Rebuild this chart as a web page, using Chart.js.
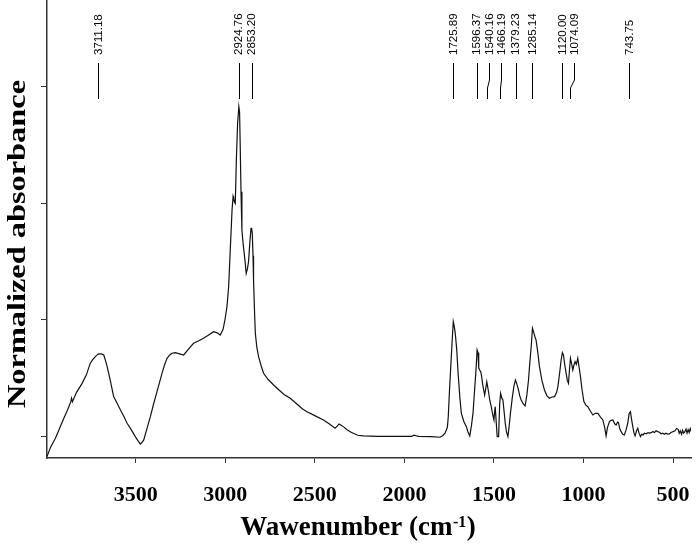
<!DOCTYPE html>
<html>
<head>
<meta charset="utf-8">
<script src="https://cdn.jsdelivr.net/npm/chart.js@4.4.0/dist/chart.umd.min.js"></script>
<style>
  html, body { margin: 0; padding: 0; background: #fff; }
  #contenedor { width: 698px; height: 548px; position: relative; }
</style>
</head>
<body>
<div id="contenedor"><canvas id="myChart"></canvas></div>
<script>
const wavenumbers = [
  3995, 3975, 3948, 3925, 3901, 3880, 3862, 3858, 3853, 3830, 3799, 3775, 3760, 3753, 3740, 3725, 3712, 3706, 3695, 3685,
  3678, 3668, 3659, 3640, 3623, 3605, 3585, 3565, 3548, 3525, 3502, 3485, 3474, 3462, 3455, 3435, 3418, 3400, 3381, 3366,
  3353, 3340, 3325, 3310, 3297, 3279, 3255, 3232, 3205, 3177, 3150, 3121, 3095, 3065, 3045, 3028, 3012, 3000, 2990, 2981,
  2972, 2962, 2956, 2953, 2948, 2944, 2938, 2931, 2924, 2920, 2917, 2912, 2907, 2900, 2894, 2888, 2883, 2876, 2870, 2862,
  2856, 2853, 2849, 2845, 2842, 2836, 2832, 2824, 2814, 2800, 2786, 2760, 2730, 2700, 2670, 2637, 2600, 2570, 2544, 2500,
  2452, 2420, 2387, 2375, 2365, 2355, 2341, 2320, 2300, 2285, 2260, 2229, 2150, 2050, 1960, 1945, 1935, 1920, 1850, 1801,
  1785, 1773, 1760, 1755, 1748, 1741, 1734, 1727, 1722, 1716, 1708, 1700, 1690, 1682, 1668, 1654, 1645, 1635, 1626, 1617,
  1608, 1599, 1594, 1589, 1585, 1580, 1575, 1570, 1562, 1552, 1545, 1540, 1532, 1523, 1515, 1507, 1500, 1496, 1493, 1487,
  1482, 1474, 1468, 1463, 1456, 1450, 1443, 1437, 1430, 1422, 1415, 1408, 1398, 1389, 1380, 1376, 1370, 1363, 1356, 1348,
  1336, 1326, 1316, 1307, 1300, 1292, 1285, 1279, 1272, 1265, 1255, 1246, 1232, 1218, 1204, 1190, 1176, 1162, 1150, 1143,
  1133, 1125, 1118, 1112, 1105, 1097, 1090, 1084, 1078, 1073, 1067, 1060, 1054, 1047, 1040, 1032, 1025, 1017, 1008, 998,
  987, 976, 962, 948, 934, 920, 906, 892, 882, 874, 866, 855, 846, 836, 826, 818, 810, 805, 798, 790,
  781, 772, 762, 753, 745, 738, 732, 725, 718, 712, 704, 697, 690, 682, 675, 668, 660, 650, 640, 630,
  623, 612, 605, 595, 586, 576, 567, 558, 548, 540, 530, 521, 512, 505, 500, 490, 480, 472, 466, 460,
  453, 447, 441, 435, 428, 422, 416, 410, 404, 398
];
const absorbance = [
  -0.171, -0.09, -0.014, 0.07, 0.158, 0.23, 0.30, 0.33, 0.30, 0.38, 0.457, 0.53, 0.60, 0.629, 0.66, 0.686, 0.705, 0.709, 0.71, 0.705,
  0.70, 0.65, 0.60, 0.47, 0.343, 0.29, 0.229, 0.17, 0.115, 0.06, 0.0, -0.04, -0.063, -0.045, -0.028, 0.08, 0.171, 0.28, 0.386, 0.47,
  0.543, 0.61, 0.672, 0.70, 0.715, 0.72, 0.71, 0.70, 0.75, 0.80, 0.82, 0.843, 0.87, 0.90, 0.89, 0.871, 0.92, 1.015, 1.12, 1.285,
  1.6, 1.943, 2.06, 2.043, 2.01, 2.0, 2.371, 2.686, 2.828, 2.78, 2.542, 2.1, 1.771, 1.65, 1.571, 1.48, 1.4, 1.44, 1.5, 1.68,
  1.786, 1.79, 1.743, 1.55, 1.343, 1.05, 0.886, 0.77, 0.686, 0.61, 0.543, 0.49, 0.443, 0.40, 0.36, 0.329, 0.28, 0.24, 0.214, 0.18,
  0.143, 0.11, 0.072, 0.09, 0.109, 0.10, 0.086, 0.06, 0.04, 0.029, 0.012, 0.006, 0.003, 0.002, 0.003, 0.012, 0.008, 0.002, 0.0, -0.005,
  0.01, 0.029, 0.08, 0.171, 0.4, 0.6, 0.8, 0.985, 0.95, 0.886, 0.75, 0.543, 0.33, 0.2, 0.13, 0.086, 0.04, 0.006, 0.09, 0.2,
  0.4, 0.6, 0.743, 0.72, 0.59, 0.571, 0.56, 0.529, 0.44, 0.357, 0.42, 0.471, 0.40, 0.31, 0.257, 0.19, 0.143, 0.22, 0.257, 0.12,
  0.0, 0.0, 0.28, 0.371, 0.33, 0.314, 0.21, 0.115, 0.04, 0.0, 0.09, 0.2, 0.33, 0.429, 0.486, 0.47, 0.44, 0.4, 0.35, 0.314,
  0.28, 0.263, 0.36, 0.486, 0.63, 0.771, 0.929, 0.90, 0.86, 0.829, 0.72, 0.6, 0.48, 0.4, 0.35, 0.329, 0.34, 0.343, 0.38, 0.429,
  0.55, 0.657, 0.72, 0.70, 0.62, 0.543, 0.48, 0.457, 0.58, 0.672, 0.63, 0.571, 0.61, 0.643, 0.62, 0.672, 0.60, 0.514, 0.40, 0.30,
  0.27, 0.257, 0.22, 0.186, 0.2, 0.2, 0.17, 0.143, 0.08, 0.006, 0.08, 0.129, 0.14, 0.143, 0.11, 0.1, 0.125, 0.12, 0.07, 0.043,
  0.02, 0.015, 0.06, 0.115, 0.2, 0.214, 0.15, 0.086, 0.03, 0.006, 0.05, 0.072, 0.03, 0.0, 0.02, 0.015, 0.029, 0.025, 0.035, 0.03,
  0.034, 0.045, 0.035, 0.05, 0.043, 0.038, 0.025, 0.029, 0.02, 0.03, 0.022, 0.024, 0.035, 0.04, 0.043, 0.05, 0.07, 0.063, 0.03, 0.05,
  0.02, 0.055, 0.03, 0.04, 0.065, 0.03, 0.06, 0.035, 0.07, 0.043
];

const peakPositions = [3711.18, 2924.76, 2853.20, 1725.89, 1596.37, 1540.16, 1466.19, 1379.23, 1285.14, 1120.00, 1074.09, 743.75];
const peakLabels = ["3711.18", "2924.76", "2853.20", "1725.89", "1596.37", "1540.16", "1466.19", "1379.23", "1285.14", "1120.00", "1074.09", "743.75"];

const xTicks = [3500, 3000, 2500, 2000, 1500, 1000, 500];
const yTicks = [0, 1, 2, 3];

const xTitle = "Wawenumber (cm";
const xTitleSup = "-1";
const xTitleEnd = ")";
const yTitle = "Normalized absorbance";

const serif = "'Liberation Serif', 'Times New Roman', serif";

// marcas de picos arriba del grafico
const peakMarks = {
  id: "peakMarks",
  afterDatasetsDraw(chart) {
    const ctx = chart.ctx;
    const xScale = chart.scales.x;
    let last = -Infinity;

    ctx.save();
    ctx.strokeStyle = "#000";
    ctx.fillStyle = "#000";
    ctx.lineWidth = 1;
    ctx.font = "11.5px 'Liberation Sans', Arial, sans-serif";

    peakPositions.forEach((w, i) => {
      const px = xScale.getPixelForValue(w);
      const lx = Math.max(px, last + 12.3);
      last = lx;

      const a = Math.round(lx) + 0.5;
      const b = Math.round(px) + 0.5;
      ctx.beginPath();
      if (Math.abs(a - b) >= 1) {
        ctx.moveTo(a, 63);
        ctx.lineTo(a, 80);
        ctx.lineTo(b, 88);
        ctx.lineTo(b, 99);
      } else {
        ctx.moveTo(a, 63);
        ctx.lineTo(a, 99);
      }
      ctx.stroke();

      ctx.save();
      ctx.translate(lx + 0.5, 55);
      ctx.rotate(-Math.PI / 2);
      ctx.textAlign = "left";
      ctx.textBaseline = "middle";
      ctx.fillText(peakLabels[i], 0, 0);
      ctx.restore();
    });
    ctx.restore();
  },
};

// titulos de ejes (con superindice)
const axisTitles = {
  id: "axisTitles",
  afterDraw(chart) {
    const ctx = chart.ctx;
    ctx.save();
    ctx.fillStyle = "#000";

    // eje y
    ctx.font = `bold 26px ${serif}`;
    const wy = ctx.measureText(yTitle).width;
    ctx.translate(25, 244);
    ctx.rotate(-Math.PI / 2);
    ctx.scale(328 / wy, 1);
    ctx.textAlign = "center";
    ctx.textBaseline = "alphabetic";
    ctx.fillText(yTitle, 0, 0);
    ctx.setTransform(1, 0, 0, 1, 0, 0);

    // eje x
    ctx.textAlign = "left";
    ctx.font = `bold 27px ${serif}`;
    const w1 = ctx.measureText(xTitle).width;
    const w3 = ctx.measureText(xTitleEnd).width;
    ctx.font = `bold 16px ${serif}`;
    const w2 = ctx.measureText(xTitleSup).width;
    let x0 = 357.5 - (w1 + w2 + w3) / 2;
    const base = 535;

    ctx.font = `bold 27px ${serif}`;
    ctx.fillText(xTitle, x0, base);
    ctx.font = `bold 16px ${serif}`;
    ctx.fillText(xTitleSup, x0 + w1 + 0.5, base - 8);
    ctx.font = `bold 27px ${serif}`;
    ctx.fillText(xTitleEnd, x0 + w1 + w2 + 1, base);
    ctx.restore();
  },
};

function pintarEspectro() {
  const ctx = document.getElementById("myChart");

  const cfg = {
    type: "line",
    data: {
      datasets: [
        {
          data: wavenumbers.map((w, i) => ({ x: w, y: absorbance[i] })),
          borderColor: "#111",
          borderWidth: 1.2,
          pointRadius: 0,
          tension: 0,
          fill: false,
        },
      ],
    },
    options: {
      responsive: true,
      maintainAspectRatio: false,
      animation: false,
      layout: { padding: { top: 0, right: 7, left: 0, bottom: 0 } },
      plugins: {
        legend: { display: false },
        tooltip: { enabled: false },
      },
      scales: {
        x: {
          type: "linear",
          reverse: true,
          min: 400,
          max: 3995,
          afterBuildTicks: (scale) => {
            scale.ticks = xTicks.map((v) => ({ value: v }));
          },
          afterFit: (scale) => {
            scale.height = 90;
            scale.paddingLeft = 0;
            scale.paddingRight = 0;
          },
          ticks: {
            color: "#000",
            font: { family: serif, weight: "bold", size: 22 },
            padding: 19,
            maxRotation: 0,
            callback: (v) => String(v),
          },
          grid: { drawOnChartArea: false, drawTicks: true, tickLength: 5, color: "#333", lineWidth: 1 },
          border: { display: true, color: "#333", width: 1.5 },
        },
        y: {
          min: -0.183,
          max: 3.743,
          afterBuildTicks: (scale) => {
            scale.ticks = yTicks.map((v) => ({ value: v }));
          },
          afterFit: (scale) => {
            scale.width = 47;
          },
          ticks: { display: false },
          grid: { drawOnChartArea: false, drawTicks: true, tickLength: 6, color: "#333", lineWidth: 1 },
          border: { display: true, color: "#333", width: 1.5 },
        },
      },
    },
    plugins: [peakMarks, axisTitles],
  };

  new Chart(ctx, cfg);
}

pintarEspectro();
</script>
</body>
</html>
